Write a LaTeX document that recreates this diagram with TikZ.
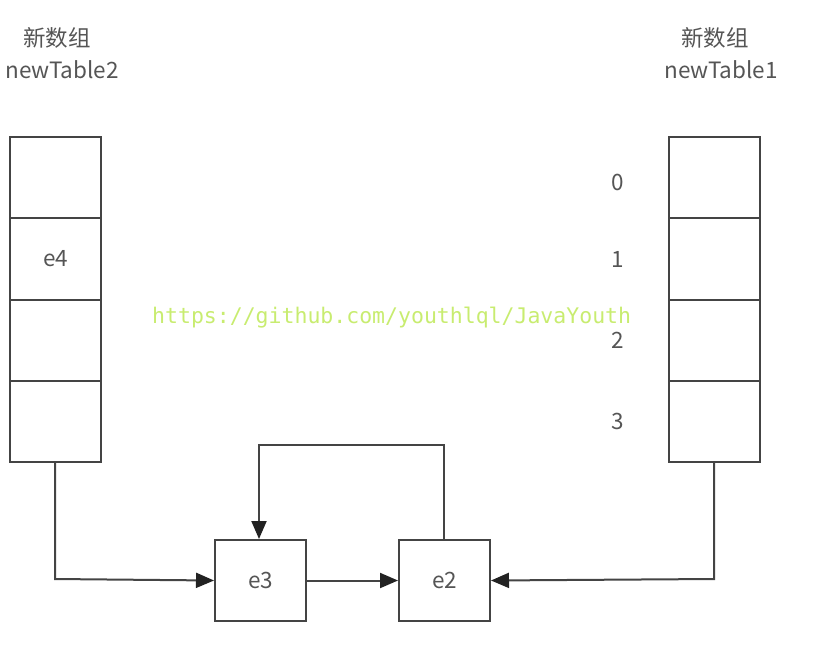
\documentclass[tikz,border=0pt]{standalone}
\usepackage{fontspec}
\newfontfamily\cjk{Noto Sans CJK SC}
\newfontfamily\wmono{DejaVu Sans Mono}
\usetikzlibrary{arrows.meta}
\definecolor{linegray}{HTML}{444444}
\definecolor{tipgray}{HTML}{222222}
\definecolor{textgray}{HTML}{555555}
\definecolor{wmgreen}{HTML}{C8EC70}
\begin{document}
\begin{tikzpicture}[x=1pt,y=-1pt,
  cell/.style={draw=linegray,line width=2pt,minimum width=91pt,minimum height=81.25pt,inner sep=0pt,outer sep=0pt,anchor=north west,font=\cjk\fontsize{22.5}{26}\selectfont,text=textgray},
  ebox/.style={draw=linegray,line width=2pt,minimum width=91pt,minimum height=81pt,inner sep=0pt,anchor=north west,font=\cjk\fontsize{22.5}{26}\selectfont,text=textgray,fill=white},
  lbl/.style={font=\cjk\fontsize{22.5}{26}\selectfont,text=textgray,inner sep=0pt},
  conn/.style={draw=linegray,line width=2pt,-{Triangle[length=18pt,width=15pt,color=tipgray]}}]
\useasboundingbox (0,0) rectangle (816,659);
% left array
\node[cell] (L0) at (10,137) {};
\node[cell] (L1) at (10,218.25) {e4};
\node[cell] (L2) at (10,299.5) {};
\node[cell] (L3) at (10,380.75) {};
% right array
\node[cell] (R0) at (669,137) {};
\node[cell] (R1) at (669,218.25) {};
\node[cell] (R2) at (669,299.5) {};
\node[cell] (R3) at (669,380.75) {};
% titles
\node[lbl] (t2a) at (57,38) {新数组};
\node[lbl] (t2b) at (62,70) {newTable2};
\node[lbl] (t1a) at (715,38) {新数组};
\node[lbl] (t1b) at (721,70) {newTable1};
% indices
\node[lbl] (i0) at (618,182) {0};
\node[lbl] (i1) at (618,259) {1};
\node[lbl] (i2) at (618,340) {2};
\node[lbl] (i3) at (618,421) {3};
% watermark
\node[font=\wmono\fontsize{21.5}{24}\selectfont,text=wmgreen,inner sep=0pt,anchor=west] (wm) at (152,318) {https://github.com/youthlql/JavaYouth};
% entry boxes
\node[ebox] (e3) at (214,539) {e3};
\node[ebox] (e2) at (398,539) {e2};
% connectors
\coordinate (a1) at (55,579);
\coordinate (b1) at (714,579);
\coordinate (c1) at (444,445);
\coordinate (c2) at (259,445);
\draw[conn] (L3.south -| a1) -- (a1) -- (e3.west);
\draw[conn] (R3.south -| b1) -- (b1) -- (e2.east);
\draw[conn] (e3.east) -- (e2.west);
\draw[conn] (e2.north -| c1) -- (c1) -- (c2) -- (c2 |- e3.north);
\end{tikzpicture}
\end{document}
